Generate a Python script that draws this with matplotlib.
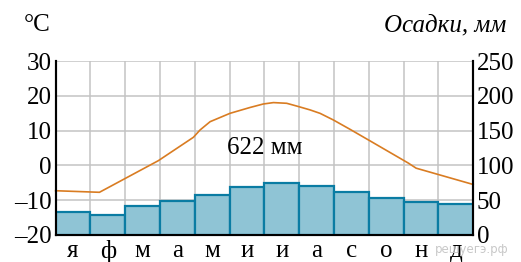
import numpy as np
import matplotlib.pyplot as plt

months = ['я', 'ф', 'м', 'а', 'м', 'и', 'и', 'а', 'с', 'о', 'н', 'д']
precip = [33, 29, 42, 49, 57, 69, 74, 71, 61, 53, 47, 45]

# temperature curve (position in months, degrees)
temp_x = [0.0, 1.26, 2.95, 3.96, 4.15, 4.44, 5.01, 5.59, 5.97, 6.26, 6.64,
          6.93, 7.31, 7.60, 7.98, 8.46, 9.03, 10.13, 10.36, 12.0]
temp_t = [-7.3, -7.75, 1.35, 8.1, 10.2, 12.6, 15.0, 16.7, 17.7, 18.1, 17.9,
          17.1, 16.0, 15.0, 13.1, 10.4, 7.1, 0.7, -0.8, -5.5]

temp_ticks = [-20, -10, 0, 10, 20, 30]
precip_ticks = [0, 50, 100, 150, 200, 250]

serif = 'Liberation Serif'
fs = 18
W, H = 521, 262
fig = plt.figure(figsize=(W / 100, H / 100), dpi=100)
x0, x1, y0, y1 = 55.6, 473.2, 61.3, 234.8
ax = fig.add_axes([x0 / W, 1 - y1 / H, (x1 - x0) / W, (y1 - y0) / H])
ax.set_xlim(0, 12)
ax.set_ylim(-20, 30)

ax.set_xticks(np.arange(13))
ax.set_xticklabels([])
ax.set_xticks(np.arange(12) + 0.5, minor=True)
ax.set_xticklabels(months, minor=True, fontfamily=serif, fontsize=fs)
ax.set_yticks(temp_ticks)
ax.set_yticklabels([str(t).replace('-', '\u2013') for t in temp_ticks],
                   fontfamily=serif, fontsize=fs)
ax.tick_params(axis='both', which='both', length=0)
ax.tick_params(axis='y', pad=3)
ax.tick_params(axis='x', which='minor', pad=3.5)
ax.grid(True, which='major', color='#c3c3c3', linewidth=1.1)
ax.set_axisbelow(True)

ax2 = ax.twinx()
ax2.set_ylim(0, 250)
ax2.set_yticks(precip_ticks)
ax2.set_yticklabels([str(p) for p in precip_ticks], fontfamily=serif, fontsize=fs)
ax2.tick_params(axis='y', length=0, pad=2.5)
ax2.bar(np.arange(12) + 0.5, precip, width=1.0, color='#8fc4d5',
        edgecolor='#0a7ca3', linewidth=1.6, zorder=2)
ax2.plot(temp_x, temp_t, color='#d97c22', linewidth=1.2,
         transform=ax.transData, zorder=3, clip_on=False)

for a in (ax, ax2):
    a.spines['top'].set_visible(False)
    for s in ('left', 'right', 'bottom'):
        a.spines[s].set_linewidth(1.5)
        a.spines[s].set_color('black')
        a.spines[s].set_zorder(5)

ax.text(6.0, 5.0, '622 мм', fontfamily=serif, fontsize=fs,
        ha='center', va='center', zorder=4)

fig.text(37 / W, 1 - 25 / H, '°C', fontfamily=serif, fontsize=fs,
         ha='center', va='center')
fig.text(506 / W, 1 - 25 / H, 'Осадки, мм', fontfamily=serif, fontsize=fs,
         style='italic', ha='right', va='center')
fig.text(508 / W, 1 - 249 / H, 'решуегэ.рф', fontfamily='DejaVu Sans',
         fontsize=8.5, color='#c8c8c8', ha='right', va='center')

fig.savefig('out.png', dpi=100)
